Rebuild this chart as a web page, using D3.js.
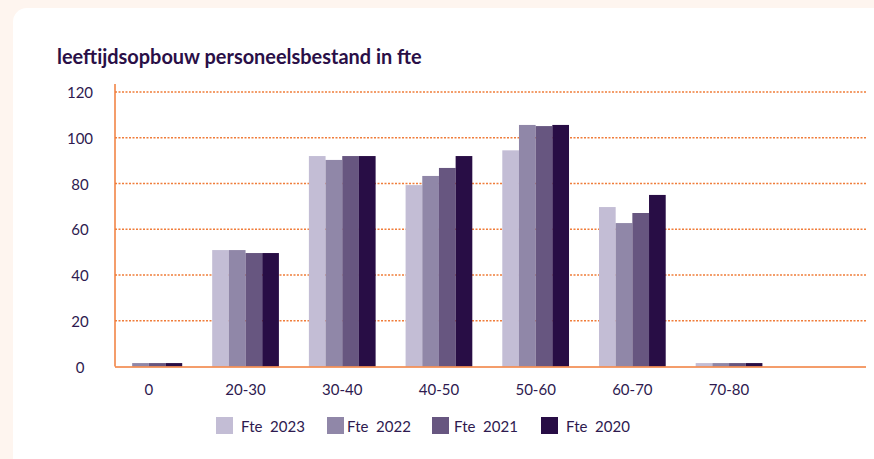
<!DOCTYPE html>
<html>
<head>
<meta charset="utf-8">
<script src="https://cdn.jsdelivr.net/npm/d3@7"></script>
<style>
  html, body { margin: 0; padding: 0; background: #fef5ef; }
  svg { display: block; }
  text { font-family: Lato, "Open Sans", sans-serif; white-space: pre; }
</style>
</head>
<body>
<svg id="chart" width="874" height="459"></svg>
<script>
// ---- data ----
const categories = ["0", "20-30", "30-40", "40-50", "50-60", "60-70", "70-80"];
const seriesNames = ["Fte  2023", "Fte  2022", "Fte  2021", "Fte  2020"];
const fte2023 = [0, 50.9, 92.0, 79.3, 94.5, 69.7, 1.5];
const fte2022 = [1.5, 50.9, 90.3, 83.3, 105.6, 62.7, 1.5];
const fte2021 = [1.5, 49.6, 92.0, 86.8, 105.1, 67.1, 1.5];
const fte2020 = [1.5, 49.6, 92.0, 92.0, 105.6, 75.0, 1.5];
const yTicks = [0, 20, 40, 60, 80, 100, 120];
const titleText = "leeftijdsopbouw personeelsbestand in fte";

// ---- style / layout ----
const colors = ["#c3bdd5", "#9087a8", "#675680", "#280d45"];
const orange = "#f07d3a";
const textColor = "#2e1a4f";
const seriesValues = [fte2023, fte2022, fte2021, fte2020];

const svg = d3.select("#chart");

// card
svg.append("rect").attr("x", 13).attr("y", 8).attr("width", 900).attr("height", 500)
  .attr("rx", 14).attr("fill", "#ffffff");

// title
const title = svg.append("text").attr("x", 57).attr("y", 64)
  .attr("fill", "#2a0f47").attr("font-weight", "bold").attr("font-size", 19)
  .text(titleText);
const tw = title.node().getComputedTextLength();
title.attr("font-size", 19 * 365 / tw);

const plotLeft = 115, plotRight = 866;
const y = d3.scaleLinear().domain([0, 120]).range([366.5, 92]);
const x = d3.scaleBand().domain(categories).range([100.5, 777.4])
  .paddingInner(0.31).paddingOuter(0.155);
const xs = d3.scaleBand().domain(d3.range(seriesNames.length)).range([0, x.bandwidth()]);

// gridlines
svg.append("g").selectAll("line").data(yTicks.filter(t => t > 0)).join("line")
  .attr("x1", plotLeft).attr("x2", plotRight)
  .attr("y1", d => y(d)).attr("y2", d => y(d))
  .attr("stroke", orange).attr("stroke-width", 1.3).attr("stroke-dasharray", "2,1.5");

// y tick labels (centered)
svg.append("g").selectAll("text").data(yTicks).join("text")
  .attr("x", 80).attr("y", d => y(d)).attr("text-anchor", "middle")
  .attr("dominant-baseline", "central").attr("font-size", 15).attr("fill", textColor)
  .text(d => d);

// bars
const groups = svg.append("g").selectAll("g").data(categories).join("g")
  .attr("transform", d => `translate(${x(d)},0)`);
groups.selectAll("rect")
  .data((c, ci) => seriesValues.map((arr, si) => ({ si, v: arr[ci] })))
  .join("rect")
  .attr("x", d => xs(d.si)).attr("width", xs.bandwidth())
  .attr("y", d => y(d.v)).attr("height", d => y(0) - y(d.v))
  .attr("fill", d => colors[d.si]);

// axes lines
svg.append("line").attr("x1", plotLeft).attr("x2", plotLeft).attr("y1", 84).attr("y2", y(0))
  .attr("stroke", orange).attr("stroke-width", 1.5);
svg.append("line").attr("x1", plotLeft).attr("x2", plotRight).attr("y1", y(0) + 0.5).attr("y2", y(0) + 0.5)
  .attr("stroke", orange).attr("stroke-width", 1.5);

// x labels
svg.append("g").selectAll("text").data(categories).join("text")
  .attr("x", d => x(d) + x.bandwidth() / 2).attr("y", 389)
  .attr("text-anchor", "middle").attr("dominant-baseline", "central")
  .attr("font-size", 15).attr("fill", textColor).text(d => d);

// legend
const legendSwatchX = [216, 327, 432, 541];
const legendTextX = [241, 347, 454, 566];
const lg = svg.append("g").selectAll("g").data(seriesNames).join("g");
lg.append("rect").attr("x", (d, i) => legendSwatchX[i]).attr("y", 417)
  .attr("width", 17).attr("height", 17).attr("fill", (d, i) => colors[i]);
lg.append("text").attr("x", (d, i) => legendTextX[i]).attr("y", 426)
  .attr("dominant-baseline", "central").attr("font-size", 15).attr("fill", textColor)
  .text(d => d);
</script>
</body>
</html>
